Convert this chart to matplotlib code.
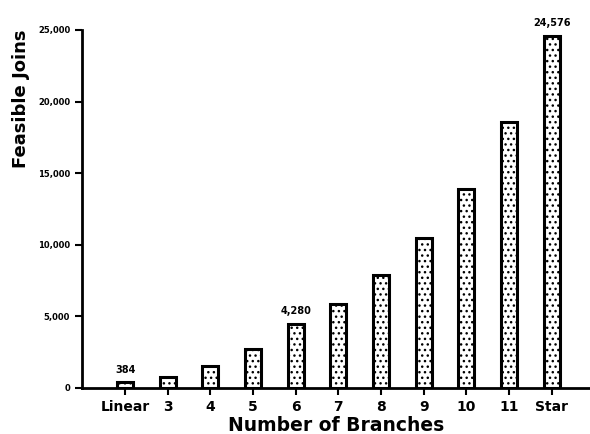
import matplotlib.pyplot as plt

# number of branches vs feasible joins
categories = ['Linear', '3', '4', '5', '6', '7', '8', '9', '10', '11', 'Star']
joins = [384, 768, 1536, 2688, 4450, 5880, 7900, 10450, 13900, 18550, 24576]
bar_labels = {0: '384', 4: '4,280', 10: '24,576'}
y_ticks = [0, 5000, 10000, 15000, 20000, 25000]
y_ticklabels = ['0', '5,000', '10,000', '15,000', '20,000', '25,000']

plt.rcParams['hatch.linewidth'] = 1.0
fig = plt.figure(figsize=(5.9, 4.34), dpi=100)
ax = fig.add_axes([0.139, 0.106, 0.861, 0.825])

x = range(len(categories))
bars = ax.bar(x, joins, width=0.38, color='white', edgecolor='black',
              linewidth=2.2, hatch='...')

for i, txt in bar_labels.items():
    ax.text(i, joins[i] + 550, txt, ha='center', va='bottom',
            fontsize=7, fontweight='bold')

ax.set_xlim(-1.01, 10.9)
ax.set_ylim(0, 25000)
ax.set_xticks(list(x))
ax.set_xticklabels(categories, fontsize=10, fontweight='bold')
ax.set_yticks(y_ticks)
ax.set_yticklabels(y_ticklabels, fontsize=6, fontweight='bold')
ax.tick_params(axis='both', direction='out', width=1.5, length=5)
ax.tick_params(axis='x', pad=4)

ax.spines['top'].set_visible(False)
ax.spines['right'].set_visible(False)
ax.spines['left'].set_linewidth(2)
ax.spines['bottom'].set_linewidth(2)

ax.set_xlabel('Number of Branches', fontsize=13.5, fontweight='bold', labelpad=1)
ax.set_ylabel('Feasible Joins', fontsize=13, fontweight='bold', labelpad=6, loc='top')

plt.savefig('out.png', dpi=100)
